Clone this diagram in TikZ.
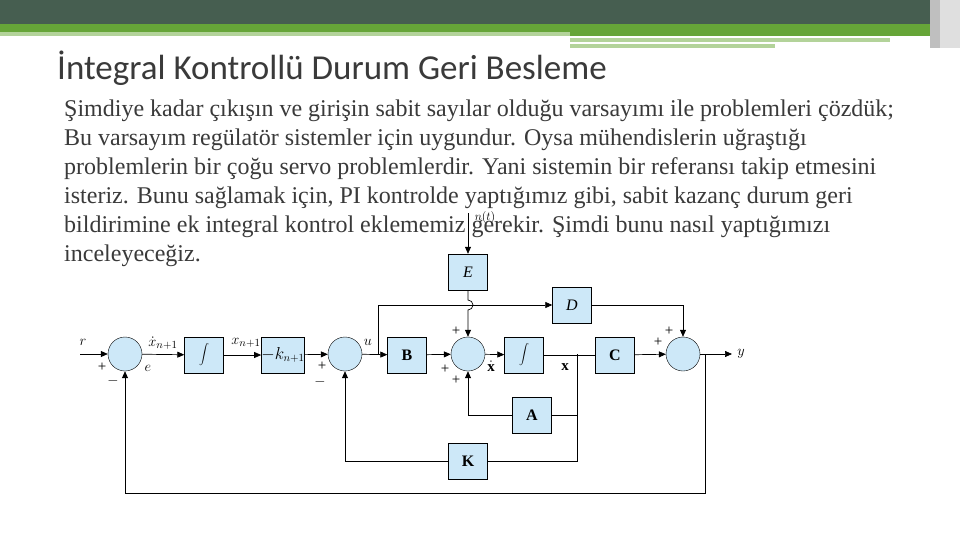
\documentclass[tikz,border=0pt]{standalone}
\usepackage{fontspec}
\setmainfont{Liberation Serif}
\newfontfamily\titlefont{Carlito}
\usetikzlibrary{arrows.meta}
\definecolor{blk}{HTML}{CDE8F8}
\definecolor{dkg}{HTML}{465E50}
\definecolor{gr}{HTML}{66A538}
\definecolor{lgr}{HTML}{B3D39A}
\definecolor{txt}{HTML}{3A3A3A}
\begin{document}
\begin{tikzpicture}[x=1pt,y=-1pt,
 sumc/.style={circle,draw,fill=blk,minimum size=34pt,inner sep=0pt},
 bx/.style={draw,fill=blk,minimum width=39pt,minimum height=36pt,inner sep=0pt,font=\bfseries\fontsize{16}{16}\selectfont},
 lbl/.style={font=\fontsize{15}{15}\selectfont,inner sep=1pt},
 arr/.style={-{Triangle[length=7pt,width=6pt]}},
 ln/.style={line width=0.7pt}]
\useasboundingbox (0,0) rectangle (960,540);
\fill[white] (0,0) rectangle (960,540);
% header
\fill[dkg] (0,0) rectangle (935,24);
\fill[gr] (0,24) rectangle (930,36);
\fill[lgr] (0,32) rectangle (570,36);
\fill[lgr] (570,38) rectangle (890,42);
\fill[lgr] (570,44) rectangle (775,48);
\fill[gray!50] (930,0) rectangle (950,48);
\fill[gray!25] (940,0) rectangle (960,48);
\node[anchor=base west,inner sep=0,text=txt,font=\titlefont\fontsize{35}{35}\selectfont] (title) at (57,80) {İntegral Kontrollü Durum Geri Besleme};
\node[anchor=north west,inner sep=0,text=txt,align=left,font=\fontsize{24}{29}\selectfont] (body) at (64,100) {Şimdiye kadar çıkışın ve girişin sabit sayılar olduğu varsayımı ile problemleri çözdük;\\Bu varsayım regülatör sistemler için uygundur. Oysa mühendislerin uğraştığı\\problemlerin bir çoğu servo problemlerdir. Yani sistemin bir referansı takip etmesini\\isteriz. Bunu sağlamak için, PI kontrolde yaptığımız gibi, sabit kazanç durum geri\\bildirimine ek integral kontrol eklememiz gerekir. Şimdi bunu nasıl yaptığımızı\\inceleyeceğiz.};
% blocks
\node[sumc] (s1) at (125,354) {};
\node[sumc] (s2) at (345,354) {};
\node[sumc] (s3) at (468,354) {};
\node[sumc] (s4) at (683,354) {};
\node[bx] (i1) at (204,355) {\mdseries$\displaystyle\int$};
\node[bx] (k1) at (283,355) {\mdseries$-k_{n+1}$};
\node[bx] (B) at (407,355) {B};
\node[bx] (E) at (468,272) {\mdseries\itshape E};
\node[bx] (D) at (572,305) {\mdseries\itshape D};
\node[bx] (i2) at (524,355) {\mdseries$\displaystyle\int$};
\node[bx] (C) at (615,355) {C};
\node[bx] (A) at (532,415) {A};
\node[bx] (K) at (468,461) {K};
\coordinate (rin) at (80,354);
\coordinate (nt) at (468,213);
\coordinate (yout) at (732,354);
\coordinate (bu) at (378,354);
\coordinate (bx) at (577,354);
\coordinate (by) at (705,354);
\begin{scope}[ln]
\draw[arr] (rin) -- (s1);
\draw[arr] (s1) -- (i1);
\draw[arr] (i1) -- (k1);
\draw[arr] (k1) -- (s2);
\draw[arr] (s2) -- (B);
\draw[arr] (B) -- (s3);
\draw[arr] (s3) -- (i2);
\draw (i2.east) -- (C.west);
\draw[arr] (C) -- (s4);
\draw[arr] (s4) -- (yout);
\draw[arr] (nt) -- (E);
\draw[arr] (E.south) -- (468,300) arc[start angle=90,end angle=-90,radius=5pt] -- (s3.north);
\draw[arr] (bu) |- (D.west);
\draw[arr] (D.east) -| (s4.north);
\draw (bx) |- (A.east);
\draw (bx) |- (K.east);
\draw[arr] (A.west) -| (s3.south);
\draw[arr] (K.west) -| (s2.south);
\draw[arr] (by) |- (125,493) -- (s1.south);
\end{scope}
% labels
\node[lbl] (lr) at (83,342) {$r$};
\node[lbl] (l1) at (102,367) {+};
\node[lbl] (l2) at (113,381) {$-$};
\node[lbl] (le) at (148,368) {$e$};
\node[lbl] (lxd) at (163,343) {$\dot x_{n+1}$};
\node[lbl] (lx1) at (246,343) {$x_{n+1}$};
\node[lbl] (l3) at (322,366) {+};
\node[lbl] (l4) at (320,382) {$-$};
\node[lbl] (lu) at (368,342) {$u$};
\node[lbl] (l5) at (456,331) {+};
\node[lbl] (l6) at (445,369) {+};
\node[lbl] (l7) at (456,380) {+};
\node[lbl] (lxdot) at (491,366) {$\dot{\mathbf x}$};
\node[lbl] (lx) at (565,367) {$\mathbf x$};
\node[lbl] (l8) at (669,331) {+};
\node[lbl] (l9) at (658,342) {+};
\node[lbl] (ly) at (741,354) {$y$};
\node[lbl,font=\fontsize{12}{12}\selectfont] (ln) at (485,217) {$n(t)$};
\end{tikzpicture}
\end{document}
